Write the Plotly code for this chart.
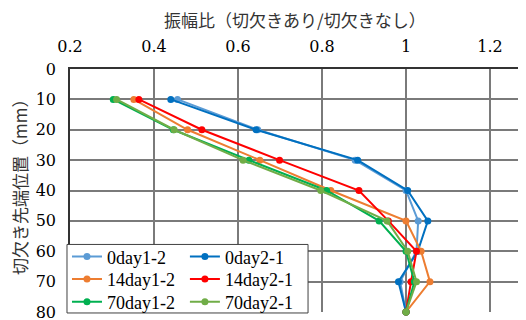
import plotly.graph_objects as go

depth = [10, 20, 30, 40, 50, 60, 70, 80]
series_names = ["0day1-2", "0day2-1", "14day1-2", "14day2-1", "70day1-2", "70day2-1"]
v_0day12 = [0.456, 0.647, 0.879, 1.000, 1.029, 1.025, 0.986, 1.0]
v_0day21 = [0.440, 0.643, 0.885, 1.004, 1.052, 1.028, 0.982, 1.0]
v_14day12 = [0.352, 0.480, 0.652, 0.821, 1.000, 1.036, 1.057, 1.0]
v_14day21 = [0.364, 0.514, 0.699, 0.888, 0.958, 1.025, 1.012, 1.0]
v_70day12 = [0.303, 0.446, 0.626, 0.811, 0.936, 1.000, 1.020, 1.0]
v_70day21 = [0.311, 0.448, 0.612, 0.797, 0.955, 1.004, 1.025, 1.0]
x_ticks = [0.2, 0.4, 0.6, 0.8, 1.0, 1.2]
x_tick_text = ["0.2", "0.4", "0.6", "0.8", "1", "1.2"]
y_ticks = [0, 10, 20, 30, 40, 50, 60, 70, 80]
x_title = "振幅比（切欠きあり/切欠きなし）"
y_title = "切欠き先端位置（mm）"

colors = ["#5B9BD5", "#0070C0", "#ED7D31", "#FF0000", "#00B050", "#70AD47"]
values = [v_0day12, v_0day21, v_14day12, v_14day21, v_70day12, v_70day21]
legend_ids = ["legend", "legend2", "legend3", "legend4", "legend5", "legend6"]

fig = go.Figure()
for name, vals, col, lg in zip(series_names, values, colors, legend_ids):
    fig.add_trace(go.Scatter(
        x=vals, y=depth, name=name, mode="lines+markers",
        line=dict(color=col, width=2), marker=dict(color=col, size=7),
        legend=lg, cliponaxis=False))

serif = "Liberation Serif"
tickserif = "DejaVu Serif"
cjk = "Noto Sans CJK JP"
grid = "#7a7a7a"
legfont = dict(family=serif, size=18, color="black")
col_x = [-0.0066, 0.252]
row_y = [0.2269, 0.1349, 0.0413]
leg_layout = {}
for i, lg in enumerate(legend_ids):
    leg_layout[lg] = dict(x=col_x[i % 2], y=row_y[i // 2], xanchor="left", yanchor="middle",
                          bgcolor="rgba(0,0,0,0)", font=legfont, itemwidth=30)

# the page body has an 8px margin, so the figure is 8px smaller than the window
fig.update_layout(
    width=518, height=312,
    margin=dict(l=62, r=0, t=61.3, b=8.3, autoexpand=False),
    paper_bgcolor="white", plot_bgcolor="white",
    font=dict(family=serif, size=18, color="black"),
    showlegend=True,
    xaxis=dict(side="top", range=[0.2, 1.2857], tickvals=x_ticks, ticktext=x_tick_text,
               showgrid=True, gridcolor=grid, gridwidth=1.5, zeroline=False,
               showline=True, linecolor="#333333", linewidth=1.5, ticks="",
               ticklabelstandoff=9, automargin=False,
               tickfont=dict(family=tickserif, size=16, color="black")),
    yaxis=dict(range=[80, 0], tickvals=y_ticks, showgrid=True, gridcolor=grid, gridwidth=1.5,
               zeroline=False, showline=True, linecolor="#333333", linewidth=1.5, ticks="",
               ticklabelstandoff=9, automargin=False, ticklabeloverflow="allow",
               tickfont=dict(family=tickserif, size=16, color="black")),
    shapes=[dict(type="rect", xref="paper", yref="paper", x0=-0.0066, x1=0.522,
                 y0=-0.004, y1=0.278, fillcolor="white", line=dict(color="#404040", width=1),
                 layer="above")],
    annotations=[
        dict(text=x_title, xref="paper", yref="paper", x=0.493, y=1.203,
             xanchor="center", yanchor="middle", showarrow=False,
             font=dict(family=cjk, size=17, color="#333")),
        dict(text=y_title, xref="paper", yref="paper", x=-0.1096, y=0.531,
             xanchor="center", yanchor="middle", showarrow=False, textangle=-90,
             font=dict(family=cjk, size=17, color="#333")),
    ],
    **leg_layout,
)
fig.write_html("out.html")
